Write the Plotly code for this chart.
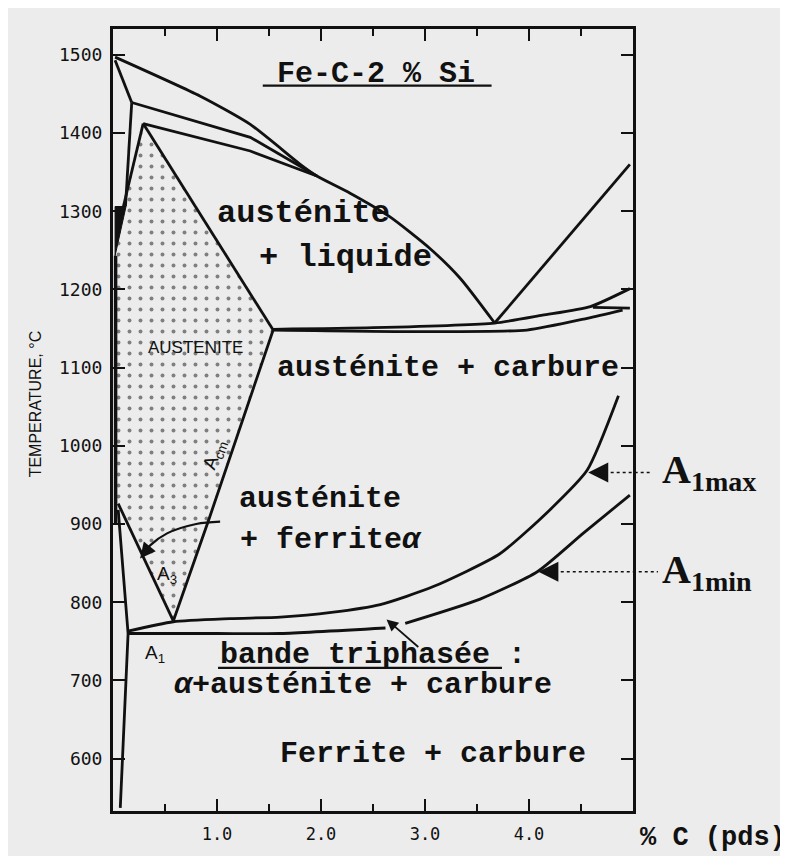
import plotly.graph_objects as go

# ---------------- axes ----------------
X_MIN, X_MAX = 0.0, 5.0
Y_MIN, Y_MAX = 533, 1533
x_tick_vals = [1, 2, 3, 4]
x_tick_text = ["1.0", "2.0", "3.0", "4.0"]
y_tick_vals = [600, 700, 800, 900, 1000, 1100, 1200, 1300, 1400, 1500]

# ---------------- phase boundaries (% C, °C) ----------------
liquidus_x = [0.02, 0.84, 1.32, 1.80, 1.96, 2.28, 2.66, 3.05, 3.34, 3.67]
liquidus_y = [1497, 1447, 1411, 1360, 1345, 1323, 1293, 1252, 1214, 1157]

liq_graphite_x = [3.67, 4.97]
liq_graphite_y = [1157, 1360]

peri_upper_x = [0.18, 1.32, 1.96]
peri_upper_y = [1439, 1394.5, 1345]

peri_lower_x = [0.29, 1.32, 1.96]
peri_lower_y = [1412, 1377, 1345]

delta_solidus_x = [0.02, 0.18]
delta_solidus_y = [1493, 1439]

delta_b_x = [0.18, 0.12]
delta_b_y = [1439, 1306]

delta_c_x = [0.29, 0.10]
delta_c_y = [1412, 1306]

delta_tri_x = [0.02, 0.125, 0.02, 0.02]
delta_tri_y = [1306, 1306, 1243, 1306]

gamma_left_x = [0.025, 0.025]
gamma_left_y = [1243, 900]

solidus_x = [0.29, 1.54]
solidus_y = [1412, 1148]

acm_x = [1.54, 0.93, 0.58]
acm_y = [1148, 909, 776]

a3_x = [0.05, 0.58]
a3_y = [926, 776]

alpha_x = [0.05, 0.145, 0.07]
alpha_y = [918, 760, 537]

eut_upper_x = [1.54, 2.5, 3.67, 4.13, 4.59, 4.97]
eut_upper_y = [1149, 1151, 1157, 1167, 1178, 1201]

eut_lower_x = [1.54, 3.0, 3.98, 4.56, 4.9]
eut_lower_y = [1148, 1146, 1148, 1163, 1173.5]

eut_flat_x = [4.615, 4.97]
eut_flat_y = [1177, 1176]

a1max_x = [0.145, 0.58, 1.125, 1.61, 2.1, 2.57, 3.08, 3.72, 4.2, 4.56, 4.86]
a1max_y = [763, 775, 779, 781, 787, 797, 820, 862, 918, 969, 1064]

a1min_x = [0.145, 1.0, 1.61, 2.62, None, 2.81, 3.53, 4.08, 4.52, 4.97]
a1min_y = [760, 760, 760, 767, None, 773, 804, 839, 888, 937]

ferrite_arrow_x = [1.03, 0.8, 0.52, 0.36, 0.28]
ferrite_arrow_y = [903, 900, 888, 873, 860]

# austenite (dotted) field
aust_x = [0.29, 1.54, 0.93, 0.58, 0.05, 0.03, 0.03, 0.10, 0.29]
aust_y = [1412, 1148, 909, 776, 926, 926, 1243, 1306, 1412]

# leader targets
a1max_mark = (4.57, 966)
a1min_mark = (4.09, 839)

INK = "#111111"
PAPER = "#ececec"
MONO = "Liberation Mono"


def px(x):
    return (x - X_MIN) / (X_MAX - X_MIN)


def py(y):
    return (y - Y_MIN) / (Y_MAX - Y_MIN)


fig = go.Figure()

# dotted austenite field
fig.add_trace(go.Scatter(
    x=aust_x, y=aust_y, mode="lines", fill="toself",
    fillcolor="rgba(0,0,0,0)",
    fillpattern=dict(shape=".", size=11, solidity=0.1, fgcolor=INK,
                     bgcolor="rgba(0,0,0,0)"),
    line=dict(width=0), hoverinfo="skip", showlegend=False))

fig.add_trace(go.Scatter(
    x=delta_tri_x, y=delta_tri_y, mode="lines", fill="toself",
    fillcolor=INK, line=dict(color=INK, width=1),
    hoverinfo="skip", showlegend=False))

straight = [
    (liq_graphite_x, liq_graphite_y),
    (peri_upper_x, peri_upper_y),
    (peri_lower_x, peri_lower_y),
    (delta_solidus_x, delta_solidus_y),
    (delta_b_x, delta_b_y),
    (delta_c_x, delta_c_y),
    (solidus_x, solidus_y),
    (acm_x, acm_y),
    (a3_x, a3_y),
    (alpha_x, alpha_y),
    (eut_flat_x, eut_flat_y),
]
for xs, ys in straight:
    fig.add_trace(go.Scatter(x=xs, y=ys, mode="lines",
                             line=dict(color=INK, width=2.8),
                             hoverinfo="skip", showlegend=False))

fig.add_trace(go.Scatter(x=gamma_left_x, y=gamma_left_y, mode="lines",
                         line=dict(color=INK, width=3.5),
                         hoverinfo="skip", showlegend=False))

curved = [
    (liquidus_x, liquidus_y),
    (eut_upper_x, eut_upper_y),
    (eut_lower_x, eut_lower_y),
    (a1max_x, a1max_y),
    (a1min_x, a1min_y),
]
for xs, ys in curved:
    fig.add_trace(go.Scatter(x=xs, y=ys, mode="lines",
                             line=dict(color=INK, width=2.8, shape="spline",
                                       smoothing=0.6),
                             hoverinfo="skip", showlegend=False))

fig.add_trace(go.Scatter(x=ferrite_arrow_x, y=ferrite_arrow_y, mode="lines",
                         line=dict(color=INK, width=2.2, shape="spline"),
                         hoverinfo="skip", showlegend=False))

annotations = []
shapes = []


def label(text, x, y, size=30, family=MONO, anchor="left", angle=0, bold=True):
    t = f"<b>{text}</b>" if bold else text
    annotations.append(dict(text=t, x=x, y=y, xref="x", yref="y",
                            xanchor=anchor, yanchor="middle", showarrow=False,
                            textangle=angle,
                            font=dict(family=family, size=size, color=INK)))


label("Fe-C-2 % Si", 1.56, 1476)
label("austénite", 0.98, 1297, size=32)
label("+ liquide", 1.385, 1241, size=32)
label("austénite + carbure", 1.56, 1100)
label("austénite", 1.19, 932)
label("+ ferrite<i>α</i>", 1.20, 879)
label("bande triphasée :", 1.01, 732.5)
label("<i>α</i>+austénite + carbure", 0.57, 694.4)
label("Ferrite + carbure", 1.59, 605.5)
label("AUSTENITE", 0.79, 1126, size=17, family="Liberation Sans",
      anchor="center", bold=False)
label("A<sub>cm</sub>", 0.98, 988, size=19, family="Liberation Sans",
      anchor="center", angle=-71, bold=False)
label("A<sub>3</sub>", 0.52, 835, size=19, family="Liberation Sans",
      anchor="center", bold=False)
label("A<sub>1</sub>", 0.40, 734, size=19, family="Liberation Sans",
      anchor="center", bold=False)

# underlines
shapes.append(dict(type="line", xref="x", yref="y", x0=1.44, x1=3.64,
                   y0=1460.6, y1=1460.6, line=dict(color=INK, width=2.2)))
shapes.append(dict(type="line", xref="x", yref="y", x0=1.01, x1=3.74,
                   y0=716, y1=716, line=dict(color=INK, width=2.2)))

# arrows
annotations.append(dict(x=0.26, y=856, ax=0.34, ay=869, xref="x", yref="y",
                        axref="x", ayref="y", text="", showarrow=True,
                        arrowhead=2, arrowsize=1.4, arrowwidth=2.2,
                        arrowcolor=INK))
annotations.append(dict(x=2.63, y=778, ax=2.95, ay=741, xref="x", yref="y",
                        axref="x", ayref="y", text="", showarrow=True,
                        arrowhead=2, arrowsize=1.3, arrowwidth=1.8,
                        arrowcolor=INK))
for (mx, my), xend, txt in [(a1max_mark, 5.16, "A<sub>1max</sub>"),
                            (a1min_mark, 5.24, "A<sub>1min</sub>")]:
    annotations.append(dict(x=mx, y=my, ax=mx + 0.13, ay=my, xref="x",
                            yref="y", axref="x", ayref="y", text="",
                            showarrow=True, arrowhead=2, arrowsize=2,
                            arrowwidth=2, arrowcolor=INK))
    shapes.append(dict(type="line", xref="paper", yref="paper",
                       x0=px(mx + 0.1), x1=px(xend), y0=py(my), y1=py(my),
                       line=dict(color=INK, width=1.5, dash="dot")))
    annotations.append(dict(text=f"<b>{txt}</b>", x=px(5.26), y=py(my),
                            xref="paper", yref="paper", xanchor="left",
                            yanchor="middle", showarrow=False,
                            font=dict(family="Liberation Serif", size=40,
                                      color=INK)))

# axis titles
annotations.append(dict(text="TEMPERATURE, °C", x=-0.15, y=0.52,
                        xref="paper", yref="paper", textangle=-90,
                        showarrow=False, xanchor="center", yanchor="middle",
                        font=dict(family="Liberation Sans", size=16,
                                  color=INK)))
annotations.append(dict(text="<b>% C (pds)</b>", x=1.0096, y=-0.034,
                        xref="paper", yref="paper", xanchor="left",
                        yanchor="middle", showarrow=False,
                        font=dict(family=MONO, size=27, color=INK)))

fig.update_layout(
    width=780, height=848, autosize=False,
    margin=dict(l=105, r=155, t=21, b=40),
    paper_bgcolor=PAPER, plot_bgcolor=PAPER,
    showlegend=False,
    annotations=annotations, shapes=shapes,
)
fig.update_xaxes(range=[X_MIN, X_MAX], tickvals=x_tick_vals,
                 ticktext=x_tick_text, ticks="inside", ticklen=12,
                 tickwidth=2, tickcolor=INK, showline=True, linewidth=3,
                 linecolor=INK, mirror="ticks", showgrid=False,
                 zeroline=False, ticklabelstandoff=6,
                 tickfont=dict(family="DejaVu Sans Mono", size=17, color=INK),
                 minor=dict(dtick=0.5, tick0=0, ticks="inside", ticklen=7,
                            tickwidth=2, tickcolor=INK, showgrid=False))
fig.update_yaxes(range=[Y_MIN, Y_MAX], tickvals=y_tick_vals, ticks="inside",
                 ticklen=12, tickwidth=2, tickcolor=INK, showline=True,
                 linewidth=3, linecolor=INK, mirror="ticks", showgrid=False,
                 zeroline=False, ticklabelstandoff=4,
                 tickfont=dict(family="DejaVu Sans Mono", size=18, color=INK))

fig.write_html("out.html")
